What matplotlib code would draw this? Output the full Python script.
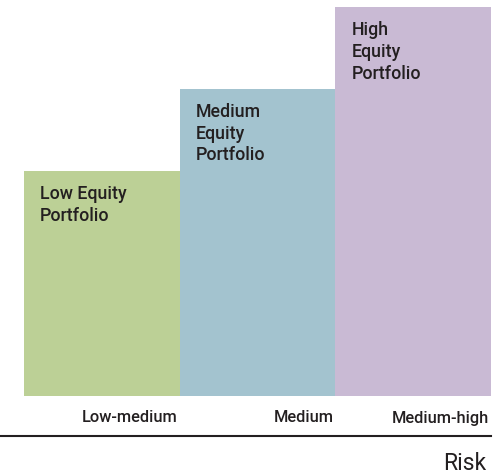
import matplotlib.pyplot as plt

# data
portfolios = ['Low Equity\nPortfolio', 'Medium\nEquity\nPortfolio', 'High\nEquity\nPortfolio']
risk_levels = ['Low-medium', 'Medium', 'Medium-high']
equity_share = [55, 75, 95]
colors = ['#bcd096', '#a3c3cf', '#c9bad4']

W, H = 502, 475
fig = plt.figure(figsize=(W / 100, H / 100), dpi=100)
# axes spans from left edge to the end of the baseline rule
ax = fig.add_axes([0, (H - 436) / H, 491 / W, 436 / H])

xs = list(range(len(equity_share)))
ax.bar(xs, equity_share, width=1.0, align='edge', color=colors, linewidth=0)

px_per_x = 467 / 3.0
px_per_y = 389 / 95.0
ax.set_xlim(-24 / px_per_x, 3.0)
ax.set_ylim(-40 / px_per_y, 396 / px_per_y)

txt_color = '#231f20'
lbl_font = ['Roboto', 'DejaVu Sans']
for x, h, lbl in zip(xs, equity_share, portfolios):
    ax.text(x + 16 / px_per_x, h - 14 / px_per_y, lbl, ha='left', va='top',
            fontsize=12.8, fontweight='medium', family=lbl_font,
            color=txt_color, linespacing=1.27)

for x, lbl in zip(xs, risk_levels):
    ax.text(x + 1 - 2 / px_per_x, -22 / px_per_y, lbl, ha='right', va='center',
            fontsize=11.8, fontweight='medium', family=lbl_font,
            color=txt_color)

for s in ['top', 'right', 'left']:
    ax.spines[s].set_visible(False)
ax.spines['bottom'].set_linewidth(1.5)
ax.spines['bottom'].set_color(txt_color)
ax.set_xticks([])
ax.set_yticks([])
ax.patch.set_alpha(0)

fig.text(486 / W, 1 - 464 / H, 'Risk', ha='right', va='center', fontsize=16.5,
         family=lbl_font, fontweight='normal', color=txt_color)

fig.savefig('out.png', dpi=100)
